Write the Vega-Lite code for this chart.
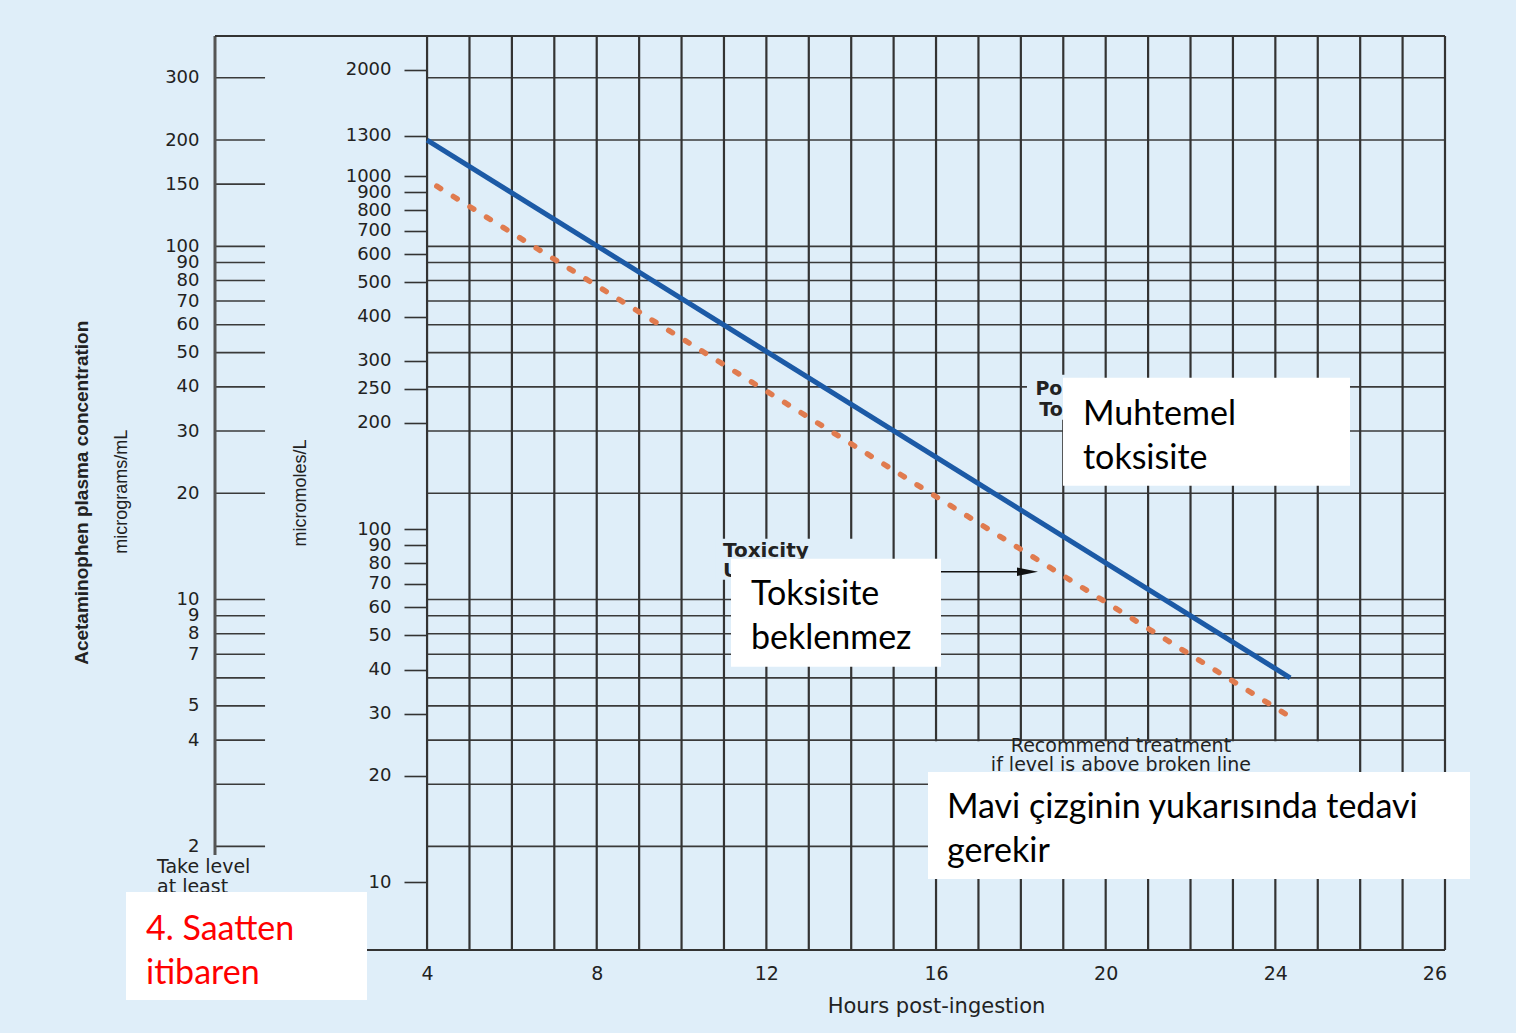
{
  "$schema": "https://vega.github.io/schema/vega-lite/v6.json",
  "width": 1230,
  "height": 914,
  "autosize": {"type": "none"},
  "padding": {"left": 215, "top": 36, "right": 71, "bottom": 83},
  "background": "#dfeef9",
  "config": {
    "view": {"stroke": null},
    "axis": {"grid": false, "labelFont": "DejaVu Sans", "labelColor": "#222", "labelFontSize": 18, "labelOverlap": false, "labelBound": false, "labelFlush": false}
  },
  "datasets": {
    "hours": [
      {"hour": 4}, {"hour": 5}, {"hour": 6}, {"hour": 7}, {"hour": 8}, {"hour": 9}, {"hour": 10},
      {"hour": 11}, {"hour": 12}, {"hour": 13}, {"hour": 14}, {"hour": 15}, {"hour": 16}, {"hour": 17},
      {"hour": 18}, {"hour": 19}, {"hour": 20}, {"hour": 21}, {"hour": 22}, {"hour": 23}, {"hour": 24},
      {"hour": 25}, {"hour": 26}, {"hour": 27}, {"hour": 28}
    ],
    "ugGrid": [
      {"ug": 300}, {"ug": 200}, {"ug": 100}, {"ug": 90}, {"ug": 80}, {"ug": 70}, {"ug": 60}, {"ug": 50},
      {"ug": 40}, {"ug": 30}, {"ug": 20}, {"ug": 10}, {"ug": 9}, {"ug": 8}, {"ug": 7}, {"ug": 6},
      {"ug": 5}, {"ug": 4}, {"ug": 3}, {"ug": 2}
    ],
    "ugTicks": [
      {"ug": 300}, {"ug": 200}, {"ug": 150}, {"ug": 100}, {"ug": 90}, {"ug": 80}, {"ug": 70}, {"ug": 60},
      {"ug": 50}, {"ug": 40}, {"ug": 30}, {"ug": 20}, {"ug": 10}, {"ug": 9}, {"ug": 8}, {"ug": 7},
      {"ug": 6}, {"ug": 5}, {"ug": 4}, {"ug": 3}, {"ug": 2}
    ],
    "line200": [{"hour": 4, "ug": 200}, {"hour": 24.35, "ug": 6.0}],
    "line150": [{"hour": 4.23, "ug": 148}, {"hour": 24.47, "ug": 4.56}],
    "labelPatches": [
      {"x1": 10.79, "x2": 14.56, "y1": 14.86, "y2": 11.37},
      {"x1": 18.144, "x2": 19.6, "y1": 43.3, "y2": 32.3},
      {"x1": 15.06, "x2": 25.86, "y1": 3.97, "y2": 3.25}
    ],
    "boxes": [
      {"x1": -3.098, "x2": 2.584, "y1": 1.485, "y2": 0.7345},
      {"x1": 11.166, "x2": 16.117, "y1": 13.04, "y2": 6.447},
      {"x1": 18.993, "x2": 25.76, "y1": 42.46, "y2": 21.0},
      {"x1": 15.81, "x2": 28.589, "y1": 3.25, "y2": 1.617}
    ],
    "notesLeft": [
      {"hour": -2.367, "ug": 1.682, "note": "Take level\nat least"}
    ],
    "notesBoldLeft": [
      {"hour": 10.977, "ug": 13.21, "note": "Toxicity\nUnlikely"}
    ],
    "notesBoldCenter": [
      {"hour": 19.394, "ug": 38.0, "note": "Possible\nToxicity"}
    ],
    "notesCenter": [
      {"hour": 20.36, "ug": 3.70, "note": "Recommend treatment\nif level is above broken line"}
    ],
    "arrow": [{"from": 15.15, "to": 18.0, "tip": 18.157, "ug": 11.98}],
    "boxNotes": [
      {"hour": 19.465, "ug": 31.26, "note": "Muhtemel\ntoksisite"},
      {"hour": 11.637, "ug": 9.66, "note": "Toksisite\nbeklenmez"},
      {"hour": 16.258, "ug": 2.407, "note": "Mavi çizginin yukarısında tedavi\ngerekir"}
    ],
    "boxNotesRed": [
      {"hour": -2.627, "ug": 1.086, "note": "4. Saatten\nitibaren"}
    ],
    "titleMass": [{"hour": -4.136, "ug": 20.06, "label": "Acetaminophen plasma concentration"}],
    "titleUnitMass": [{"hour": -3.193, "ug": 20.19, "label": "micrograms/mL"}],
    "titleUnitMolar": [{"hour": 1.028, "umol": 126.5, "label": "micromoles/L"}]
  },
  "layer": [
    {
      "layer": [
        {
          "data": {"name": "ugGrid"},
          "mark": {"type": "rule", "color": "#3a3a3a", "strokeWidth": 1.6},
          "encoding": {
            "y": {
              "field": "ug", "type": "quantitative",
              "scale": {"type": "log", "domain": [1.018, 394], "nice": false},
              "axis": {
                "orient": "left", "title": null, "ticks": false, "domain": false, "labelPadding": 16, "format": "d",
                "values": [300, 200, 150, 100, 90, 80, 70, 60, 50, 40, 30, 20, 10, 9, 8, 7, 5, 4, 2]
              }
            },
            "x": {
              "datum": 4, "type": "quantitative",
              "scale": {"domain": [-1, 28], "nice": false, "zero": false},
              "axis": {
                "title": "Hours post-ingestion", "values": [4, 8, 12, 16, 20, 24, 27.75],
                "labelExpr": "datum.value > 26 ? '26' : datum.label",
                "ticks": false, "domain": false, "labelPadding": 14, "labelFontSize": 19,
                "titleFont": "DejaVu Sans", "titleFontSize": 21, "titleFontWeight": "normal", "titleColor": "#222",
                "titleX": 721, "titleY": 62, "titleAlign": "center", "titleBaseline": "alphabetic"
              }
            },
            "x2": {"datum": 28}
          }
        },
        {
          "data": {"name": "hours"},
          "mark": {"type": "rule", "color": "#333333", "strokeWidth": 2.2},
          "encoding": {
            "x": {"field": "hour", "type": "quantitative"},
            "y": {"datum": 394, "type": "quantitative"},
            "y2": {"datum": 1.018}
          }
        },
        {
          "data": {"name": "ugTicks"},
          "mark": {"type": "rule", "color": "#3a3a3a", "strokeWidth": 1.6},
          "encoding": {
            "y": {"field": "ug", "type": "quantitative"},
            "x": {"datum": -1, "type": "quantitative"},
            "x2": {"datum": 0.18}
          }
        },
        {
          "data": {"values": [{}]},
          "mark": {"type": "rule", "color": "#555555", "strokeWidth": 3},
          "encoding": {
            "x": {"datum": -1, "type": "quantitative"},
            "y": {"datum": 394, "type": "quantitative"},
            "y2": {"datum": 1.891}
          }
        },
        {
          "data": {"values": [{}]},
          "mark": {"type": "rule", "color": "#333333", "strokeWidth": 2},
          "encoding": {
            "y": {"datum": 394, "type": "quantitative"},
            "x": {"datum": -1, "type": "quantitative"},
            "x2": {"datum": 28}
          }
        },
        {
          "data": {"values": [{}]},
          "mark": {"type": "rule", "color": "#333333", "strokeWidth": 2},
          "encoding": {
            "y": {"datum": 1.018, "type": "quantitative"},
            "x": {"datum": 2, "type": "quantitative"},
            "x2": {"datum": 28}
          }
        },
        {
          "data": {"name": "labelPatches"},
          "mark": {"type": "rect", "color": "#dfeef9", "opacity": 1},
          "encoding": {
            "x": {"field": "x1", "type": "quantitative"},
            "x2": {"field": "x2"},
            "y": {"field": "y1", "type": "quantitative"},
            "y2": {"field": "y2"}
          }
        },
        {
          "data": {"name": "line150"},
          "mark": {"type": "line", "color": "#e07b4f", "strokeWidth": 5.5, "strokeCap": "round", "strokeDash": [4.5, 15]},
          "encoding": {
            "x": {"field": "hour", "type": "quantitative"},
            "y": {"field": "ug", "type": "quantitative"}
          }
        },
        {
          "data": {"name": "line200"},
          "mark": {"type": "line", "color": "#1c5aa6", "strokeWidth": 5},
          "encoding": {
            "x": {"field": "hour", "type": "quantitative"},
            "y": {"field": "ug", "type": "quantitative"}
          }
        },
        {
          "data": {"name": "arrow"},
          "mark": {"type": "rule", "color": "#111111", "strokeWidth": 1.6},
          "encoding": {
            "x": {"field": "from", "type": "quantitative"},
            "x2": {"field": "to"},
            "y": {"field": "ug", "type": "quantitative"}
          }
        },
        {
          "data": {"name": "arrow"},
          "mark": {"type": "point", "shape": "M-1,-0.4L1,0L-1,0.4Z", "filled": true, "color": "#111111", "opacity": 1, "size": 441},
          "encoding": {
            "x": {"field": "tip", "type": "quantitative"},
            "y": {"field": "ug", "type": "quantitative"}
          }
        },
        {
          "data": {"name": "notesLeft"},
          "mark": {"type": "text", "font": "DejaVu Sans", "fontSize": 19, "color": "#222", "align": "left", "baseline": "alphabetic", "lineBreak": "\n", "lineHeight": 20},
          "encoding": {
            "x": {"field": "hour", "type": "quantitative"},
            "y": {"field": "ug", "type": "quantitative"},
            "text": {"field": "note"}
          }
        },
        {
          "data": {"name": "notesCenter"},
          "mark": {"type": "text", "font": "DejaVu Sans", "fontSize": 19, "color": "#222", "align": "center", "baseline": "alphabetic", "lineBreak": "\n", "lineHeight": 19},
          "encoding": {
            "x": {"field": "hour", "type": "quantitative"},
            "y": {"field": "ug", "type": "quantitative"},
            "text": {"field": "note"}
          }
        },
        {
          "data": {"name": "notesBoldLeft"},
          "mark": {"type": "text", "font": "DejaVu Sans", "fontSize": 20, "fontWeight": "bold", "color": "#222", "align": "left", "baseline": "alphabetic", "lineBreak": "\n", "lineHeight": 20},
          "encoding": {
            "x": {"field": "hour", "type": "quantitative"},
            "y": {"field": "ug", "type": "quantitative"},
            "text": {"field": "note"}
          }
        },
        {
          "data": {"name": "notesBoldCenter"},
          "mark": {"type": "text", "font": "DejaVu Sans", "fontSize": 19, "fontWeight": "bold", "color": "#222", "align": "center", "baseline": "alphabetic", "lineBreak": "\n", "lineHeight": 21},
          "encoding": {
            "x": {"field": "hour", "type": "quantitative"},
            "y": {"field": "ug", "type": "quantitative"},
            "text": {"field": "note"}
          }
        },
        {
          "data": {"name": "titleMass"},
          "mark": {"type": "text", "font": "Liberation Sans", "fontSize": 19, "fontWeight": "bold", "color": "#222", "angle": 270, "align": "center", "baseline": "middle"},
          "encoding": {
            "x": {"field": "hour", "type": "quantitative"},
            "y": {"field": "ug", "type": "quantitative"},
            "text": {"field": "label"}
          }
        },
        {
          "data": {"name": "titleUnitMass"},
          "mark": {"type": "text", "font": "Liberation Sans", "fontSize": 18, "color": "#222", "angle": 270, "align": "center", "baseline": "middle"},
          "encoding": {
            "x": {"field": "hour", "type": "quantitative"},
            "y": {"field": "ug", "type": "quantitative"},
            "text": {"field": "label"}
          }
        },
        {
          "data": {"name": "boxes"},
          "mark": {"type": "rect", "color": "#ffffff", "opacity": 1},
          "encoding": {
            "x": {"field": "x1", "type": "quantitative"},
            "x2": {"field": "x2"},
            "y": {"field": "y1", "type": "quantitative"},
            "y2": {"field": "y2"}
          }
        },
        {
          "data": {"name": "boxNotes"},
          "mark": {"type": "text", "font": "Lato", "fontSize": 34, "color": "#000000", "align": "left", "baseline": "alphabetic", "lineBreak": "\n", "lineHeight": 44},
          "encoding": {
            "x": {"field": "hour", "type": "quantitative"},
            "y": {"field": "ug", "type": "quantitative"},
            "text": {"field": "note"}
          }
        },
        {
          "data": {"name": "boxNotesRed"},
          "mark": {"type": "text", "font": "Lato", "fontSize": 34, "color": "#ff0000", "align": "left", "baseline": "alphabetic", "lineBreak": "\n", "lineHeight": 44},
          "encoding": {
            "x": {"field": "hour", "type": "quantitative"},
            "y": {"field": "ug", "type": "quantitative"},
            "text": {"field": "note"}
          }
        }
      ]
    },
    {
      "layer": [
        {
          "data": {"name": "titleUnitMolar"},
          "mark": {"type": "text", "font": "Liberation Sans", "fontSize": 18, "color": "#222", "angle": 270, "align": "center", "baseline": "middle"},
          "encoding": {
            "x": {"field": "hour", "type": "quantitative"},
            "y": {
              "field": "umol", "type": "quantitative",
              "scale": {"type": "log", "domain": [6.42, 2493], "nice": false},
              "axis": {
                "orient": "left", "offset": -212, "title": null, "domain": false,
                "ticks": true, "tickSize": 23, "tickWidth": 1.6, "tickColor": "#333333",
                "labelPadding": 13, "format": "d",
                "values": [2000, 1300, 1000, 900, 800, 700, 600, 500, 400, 300, 250, 200, 100, 90, 80, 70, 60, 50, 40, 30, 20, 10]
              }
            },
            "text": {"field": "label"}
          }
        }
      ]
    }
  ],
  "resolve": {"scale": {"y": "independent"}, "axis": {"y": "independent"}}
}
